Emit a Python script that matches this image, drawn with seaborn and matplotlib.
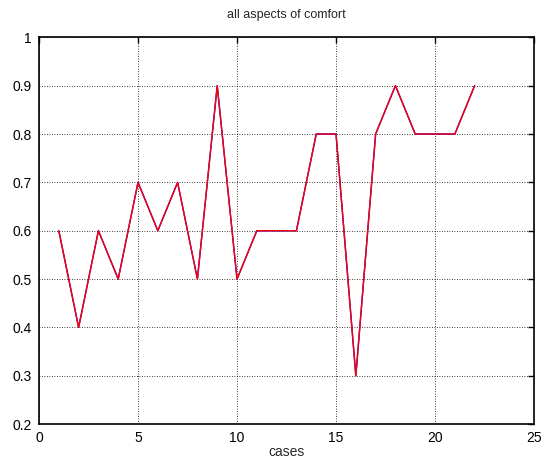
import pandas as pd
import matplotlib
matplotlib.use("Agg")
import matplotlib.pyplot as plt
import seaborn as sns

cases = list(range(1, 23))
comfort = [0.6, 0.4, 0.6, 0.5, 0.7, 0.6, 0.7, 0.5, 0.9, 0.5, 0.6,
           0.6, 0.6, 0.8, 0.8, 0.3, 0.8, 0.9, 0.8, 0.8, 0.8, 0.9]
comfort_fit = comfort  # second series drawn underneath (blue)

sns.set_style("white")
plt.rcParams["font.family"] = ["Liberation Sans", "DejaVu Sans"]

df = pd.DataFrame({"cases": cases, "a": comfort, "b": comfort_fit})

fig = plt.figure(figsize=(5.44, 4.61), dpi=100)
ax = fig.add_axes([0.0717, 0.08, 0.91, 0.839])

sns.lineplot(x="cases", y="b", data=df, color="#0000ff", linewidth=1.0, ax=ax)
sns.lineplot(x="cases", y="a", data=df, color="#ff0000", linewidth=1.0, ax=ax)

ax.set_xlim(0, 25)
ax.set_ylim(0.2, 1)
ax.set_xticks([0, 5, 10, 15, 20, 25])
ax.set_yticks([0.2, 0.3, 0.4, 0.5, 0.6, 0.7, 0.8, 0.9, 1])
ax.set_yticklabels(["0.2", "0.3", "0.4", "0.5", "0.6", "0.7", "0.8", "0.9", "1"])
ax.grid(True, color="black", linestyle=(0, (1, 2)), linewidth=0.6)
for s in ax.spines.values():
    s.set_color("black")
    s.set_linewidth(1.2)
ax.tick_params(direction="in", length=4, width=1, top=True, right=True,
               labelsize=10, colors="black", pad=5)
ax.set_xlabel("cases", fontsize=10, labelpad=0)
ax.set_ylabel("")
ax.set_title("all aspects of comfort", fontsize=9, pad=14)

fig.savefig("out.png", dpi=100)
